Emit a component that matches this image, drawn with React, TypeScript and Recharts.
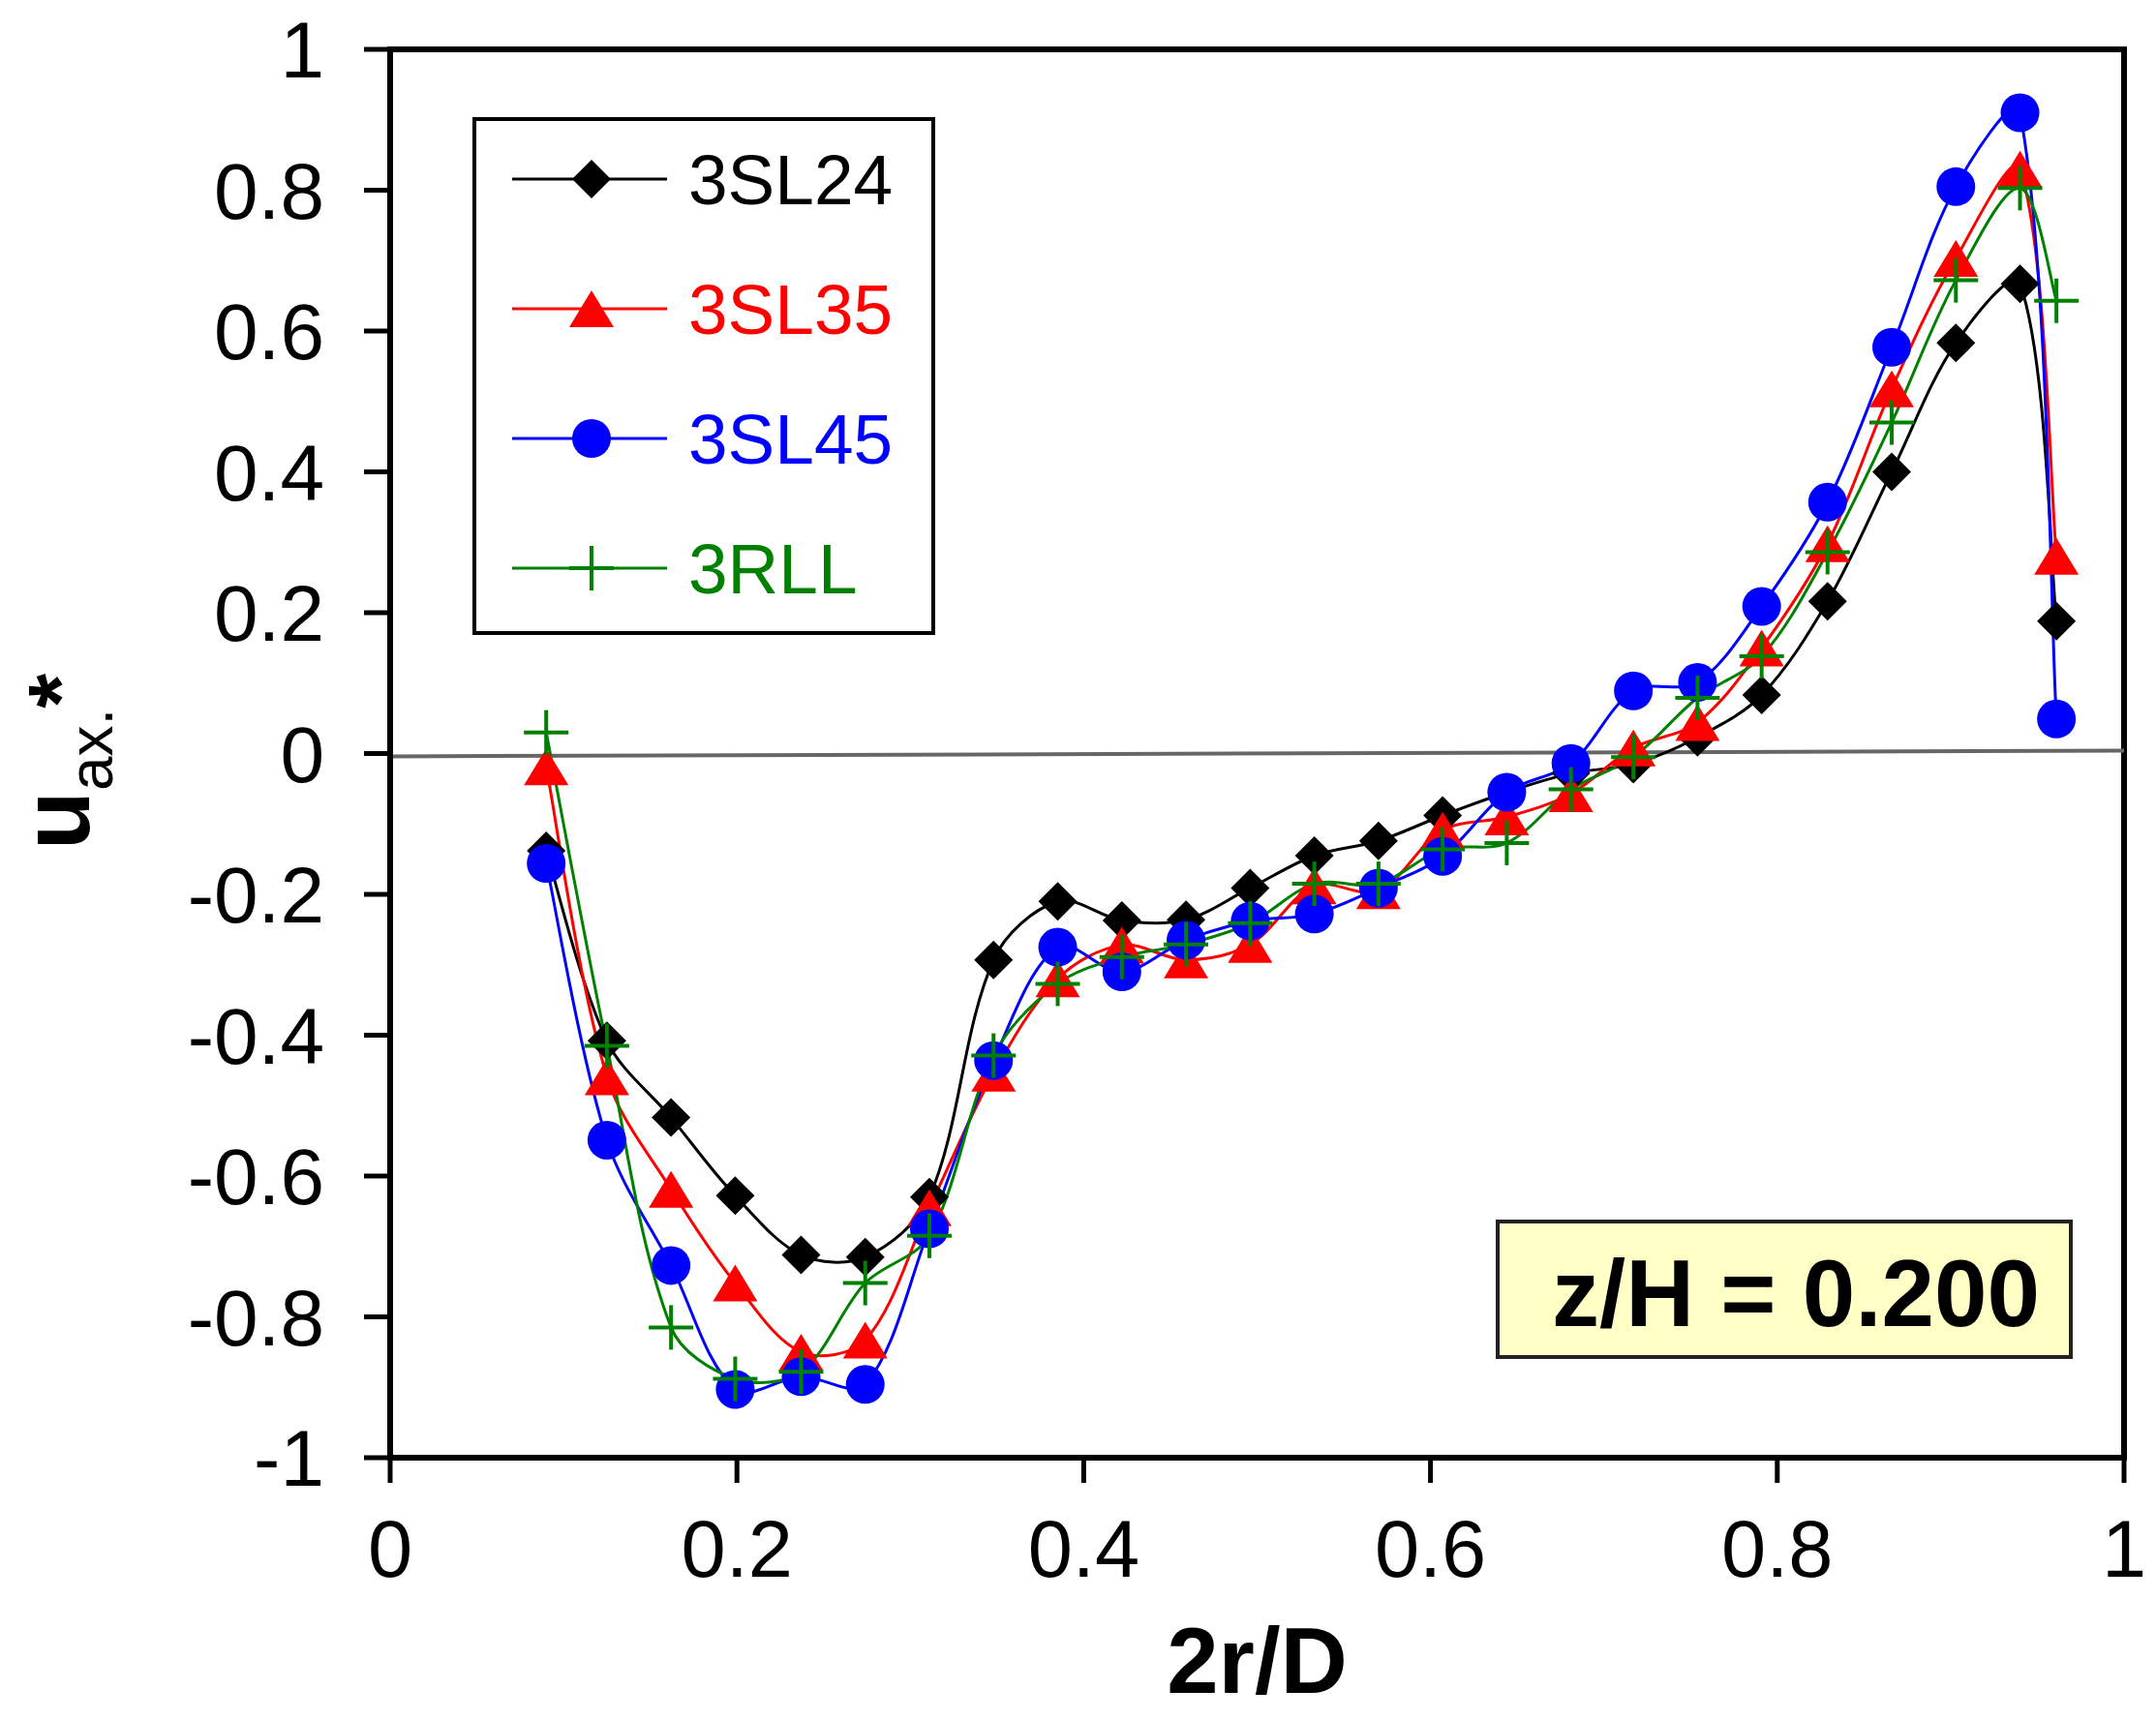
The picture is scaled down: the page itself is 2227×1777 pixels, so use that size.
import React from 'react';
import { LineChart, Line, XAxis, YAxis, ReferenceLine, ReferenceArea, Customized } from 'recharts';

const radialPos = [0.09, 0.125, 0.162, 0.199, 0.237, 0.274, 0.311, 0.348, 0.385, 0.422, 0.459, 0.496, 0.533, 0.570, 0.607, 0.644, 0.681, 0.717, 0.754, 0.791, 0.829, 0.866, 0.903, 0.940, 0.961];
const s3SL24 = [-0.138, -0.408, -0.517, -0.628, -0.712, -0.715, -0.630, -0.293, -0.210, -0.237, -0.236, -0.191, -0.145, -0.124, -0.088, -0.055, -0.028, -0.015, 0.023, 0.083, 0.216, 0.400, 0.583, 0.667, 0.188];
const s3SL35 = [-0.019, -0.459, -0.619, -0.752, -0.850, -0.833, -0.645, -0.454, -0.320, -0.272, -0.293, -0.271, -0.188, -0.195, -0.109, -0.090, -0.057, 0.008, 0.044, 0.150, 0.298, 0.518, 0.703, 0.830, 0.280];
const s3SL45 = [-0.156, -0.549, -0.727, -0.903, -0.885, -0.896, -0.675, -0.436, -0.275, -0.310, -0.265, -0.238, -0.228, -0.191, -0.146, -0.055, -0.014, 0.089, 0.101, 0.209, 0.357, 0.577, 0.805, 0.910, 0.049];
const s3RLL = [0.030, -0.415, -0.815, -0.888, -0.878, -0.752, -0.685, -0.429, -0.327, -0.289, -0.271, -0.241, -0.185, -0.185, -0.136, -0.127, -0.051, -0.005, 0.079, 0.138, 0.286, 0.470, 0.672, 0.803, 0.643];

const xTicks = [0, 0.2, 0.4, 0.6, 0.8, 1];
const yTicks = [-1, -0.8, -0.6, -0.4, -0.2, 0, 0.2, 0.4, 0.6, 0.8, 1];
const zeroLine = [{ x: 0, y: -0.004 }, { x: 1, y: 0.004 }];

const seriesNames = ['3SL24', '3SL35', '3SL45', '3RLL'];
const seriesKeys = ['s24', 's35', 's45', 'rll'];
const seriesColors = ['#000000', '#FF0000', '#0000FF', '#008000'];
const seriesShapes = ['diamond', 'triangle', 'circle', 'plus'];
const seriesValues = [s3SL24, s3SL35, s3SL45, s3RLL];

const data = radialPos.map((x, i) => {
  const row: any = { x };
  seriesKeys.forEach((k, j) => { row[k] = seriesValues[j][i]; });
  return row;
});

const FONT = '"Liberation Sans", Arial, sans-serif';

// Excel-like smoothed line: Bezier through the points, tangents scaled by chord lengths
const smoothCurve: any = (context: any) => {
  let pts: number[][] = [];
  const dist = (a: number[], b: number[]) => Math.hypot(b[0] - a[0], b[1] - a[1]);
  return {
    areaStart() {},
    areaEnd() {},
    lineStart() { pts = []; },
    point(x: number, y: number) { pts.push([+x, +y]); },
    lineEnd() {
      if (!pts.length) return;
      context.moveTo(pts[0][0], pts[0][1]);
      for (let i = 0; i < pts.length - 1; i++) {
        const p0 = pts[i - 1] || pts[i];
        const p1 = pts[i];
        const p2 = pts[i + 1];
        const p3 = pts[i + 2] || p2;
        const l01 = dist(p0, p1);
        const l12 = dist(p1, p2);
        const l23 = dist(p2, p3);
        const k1 = l01 + l12 > 0 ? l12 / (l01 + l12) / 3 : 0;
        const k2 = l12 + l23 > 0 ? l12 / (l12 + l23) / 3 : 0;
        const f1 = pts[i - 1] ? k1 : 1 / 6;
        const f2 = pts[i + 2] ? k2 : 1 / 6;
        context.bezierCurveTo(
          p1[0] + (p2[0] - p0[0]) * f1, p1[1] + (p2[1] - p0[1]) * f1,
          p2[0] - (p3[0] - p1[0]) * f2, p2[1] - (p3[1] - p1[1]) * f2,
          p2[0], p2[1]
        );
      }
    },
  };
};

function Marker({ shape, cx, cy, color }: { shape: string; cx: number; cy: number; color: string }) {
  if (cx == null || cy == null || isNaN(cx) || isNaN(cy)) return null;
  if (shape === 'diamond') {
    const r = 20;
    return <polygon points={`${cx},${cy - r} ${cx + r},${cy} ${cx},${cy + r} ${cx - r},${cy}`} fill={color} />;
  }
  if (shape === 'triangle') {
    const w = 23, h = 19;
    return <polygon points={`${cx},${cy - h} ${cx + w},${cy + h} ${cx - w},${cy + h}`} fill={color} />;
  }
  if (shape === 'circle') {
    return <circle cx={cx} cy={cy} r={20} fill={color} />;
  }
  const a = 23;
  return (
    <g stroke={color} strokeWidth={4}>
      <line x1={cx - a} y1={cy} x2={cx + a} y2={cy} />
      <line x1={cx} y1={cy - a} x2={cx} y2={cy + a} />
    </g>
  );
}

const LegendBox = () => {
  const ys = [185, 319, 453, 587];
  return (
    <g>
      <rect x={490} y={123} width={474} height={531} fill="#fff" stroke="#000" strokeWidth={4} />
      {seriesNames.map((name, i) => (
        <g key={name}>
          <line x1={529} y1={ys[i]} x2={689} y2={ys[i]} stroke={seriesColors[i]} strokeWidth={3} />
          <Marker shape={seriesShapes[i]} cx={611} cy={ys[i]} color={seriesColors[i]} />
          <text x={711} y={ys[i] + 26} fontSize={73} fill={seriesColors[i]} fontFamily={FONT}>{name}</text>
        </g>
      ))}
    </g>
  );
};

const Annotation = () => (
  <g>
    <rect x={1547} y={1262} width={592} height={140} fill="#FFFFC6" stroke="#222" strokeWidth={4} />
    <text x={1603} y={1370} fontSize={98} fontWeight="bold" fill="#000" fontFamily={FONT}>z/H = 0.200</text>
  </g>
);

const YLabel = () => (
  <text transform="rotate(-90, 92, 787)" x={92} y={787} textAnchor="middle" fontFamily={FONT} fill="#000">
    <tspan fontSize={100} fontWeight="bold">u</tspan>
    <tspan fontSize={64} dy={24}>ax.</tspan>
    <tspan fontSize={92} fontWeight="bold" dy={-22}>*</tspan>
  </text>
);

export default function App() {
  return (
    <div style={{ position: 'absolute', left: 0, top: 0, width: 2227, height: 1777, background: '#fff' }}>
      <LineChart width={2227} height={1777} data={data} margin={{ top: 51, right: 33, bottom: 0, left: 0 }} style={{ fontFamily: FONT }}>
        <XAxis
          dataKey="x"
          type="number"
          domain={[0, 1]}
          ticks={xTicks}
          height={271}
          tickSize={26}
          tickMargin={38}
          axisLine={{ stroke: '#000', strokeWidth: 6 }}
          tickLine={{ stroke: '#000', strokeWidth: 5 }}
          tick={{ fontSize: 83, fill: '#000', fontFamily: FONT }}
          label={{ value: '2r/D', position: 'insideBottom', offset: 28, fontSize: 96, fontWeight: 'bold', fill: '#000', fontFamily: FONT }}
        />
        <YAxis
          type="number"
          domain={[-1, 1]}
          ticks={yTicks}
          width={403}
          tickSize={27}
          tickMargin={41}
          axisLine={{ stroke: '#000', strokeWidth: 6 }}
          tickLine={{ stroke: '#000', strokeWidth: 5 }}
          tick={{ fontSize: 82, fill: '#000', fontFamily: FONT }}
        />
        <ReferenceArea x1={0} x2={1} y1={-1} y2={1} fill="none" stroke="#000" strokeWidth={6} ifOverflow="visible" />
        <ReferenceLine segment={zeroLine} stroke="#666" strokeWidth={4} />
        {seriesKeys.map((k, i) => (
          <Line
            key={k}
            dataKey={k}
            name={seriesNames[i]}
            type={smoothCurve}
            stroke={seriesColors[i]}
            strokeWidth={3}
            isAnimationActive={false}
            activeDot={false}
            dot={(p: any) => (
              <Marker key={`${k}-${p.index}`} shape={seriesShapes[i]} cx={p.cx} cy={p.cy} color={seriesColors[i]} />
            )}
          />
        ))}
        <Customized component={LegendBox} />
        <Customized component={Annotation} />
        <Customized component={YLabel} />
      </LineChart>
    </div>
  );
}
